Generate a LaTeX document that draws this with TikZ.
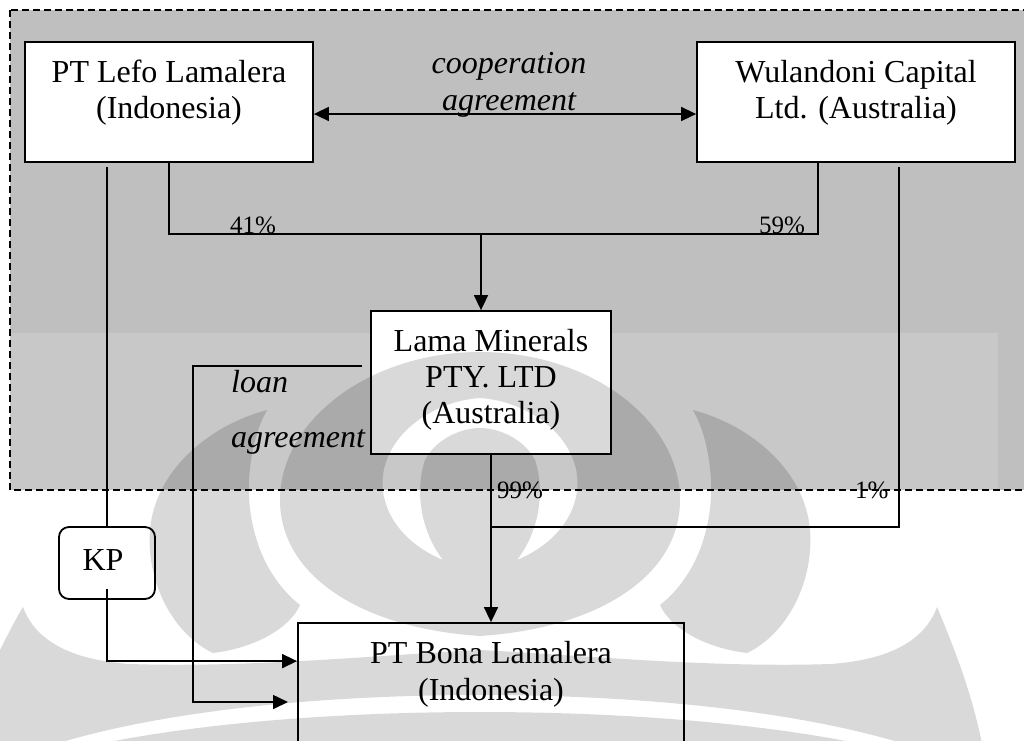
\documentclass[tikz,border=0pt]{standalone}
\usepackage{fontspec}
\setmainfont{Liberation Serif}
\usetikzlibrary{arrows.meta,calc}
\definecolor{bgA}{HTML}{BFBFBF}
\begin{document}
\begin{tikzpicture}[x=1pt,y=-1pt,
  box/.style={draw, line width=1.8pt, fill=white, inner sep=0pt},
  lbl/.style={font=\fontsize{32}{36}\selectfont, anchor=base, inner sep=0pt},
  lbli/.style={font=\fontsize{32}{36}\selectfont\itshape, anchor=base, inner sep=0pt},
  lblw/.style={font=\fontsize{32}{36}\selectfont\itshape, anchor=base west, inner sep=0pt},
  pct/.style={font=\fontsize{25}{30}\selectfont, anchor=base west, inner sep=0pt},
  conn/.style={line width=1.6pt},
  arr/.style={conn, -{Triangle[length=15pt,width=14pt]}},
  biarr/.style={conn, {Triangle[length=15pt,width=14pt]}-{Triangle[length=15pt,width=14pt]}},
  wm/.style={fill=black, fill opacity=0.15}
]
\fill[white] (0,0) rectangle (1024,740);
\clip (0,0) rectangle (1024,740);
% grey frame
\fill[bgA] (10,10) rectangle (1030,490);
\fill[white, opacity=0.14] (10,333) rectangle (998,490);
\draw[line width=1.5pt, dash pattern=on 7pt off 4pt] (10,10) rectangle (1030,490);

% boxes
\node[box, minimum width=288, minimum height=120] (lefo) at (169,102) {};
\node[box, minimum width=318, minimum height=120] (wul) at (856,102) {};
\node[box, minimum width=240, minimum height=143] (lama) at (491,382.5) {};
\node[box, rounded corners=10pt, minimum width=96, minimum height=72] (kp) at (107,563) {};
\node[box, minimum width=386, minimum height=160] (bona) at (491,703) {};

% texts
\node[lbl] (lefoA) at (169,82) {PT Lefo Lamalera};
\node[lbl] (lefoB) at (169,118) {(Indonesia)};
\node[lbl] (wulA) at (856,82) {Wulandoni Capital};
\node[lbl] (wulB) at (856,118) {Ltd. (Australia)};
\node[lbl] (lamaA) at (491,351) {Lama Minerals};
\node[lbl] (lamaB) at (491,387) {PTY. LTD};
\node[lbl] (lamaC) at (491,423) {(Australia)};
\node[lbl] (kpT) at (103,570) {KP};
\node[lbl] (bonaA) at (491,663) {PT Bona Lamalera};
\node[lbl] (bonaB) at (491,700) {(Indonesia)};
\node[lbli] (coopA) at (509,73) {cooperation};
\node[lbli] (coopB) at (509,110) {agreement};
\node[lblw] (loanA) at (231,392) {loan};
\node[lblw] (loanB) at (231,447) {agreement};
\node[pct] (p41) at (230,233) {41\%};
\node[pct] (p59) at (759,233) {59\%};
\node[pct] (p99) at (497,498) {99\%};
\node[pct] (p1) at (855,498) {1\%};

% coordinates
\coordinate (j1) at (481,234);
\coordinate (k0) at (107,167);
\coordinate (k1) at (107,589);
\coordinate (l0) at (362,366);
\coordinate (l1) at (288,702);
\coordinate (w0) at (899,167);
\coordinate (j2) at (491,527);

% connectors
\draw[biarr] ($(lefo.east)+(0,12)$) -- ($(wul.west)+(0,12)$);
\draw[conn] (lefo.south) |- (j1) -| ($(wul.south)+(-38,0)$);
\draw[arr] (j1) -- (j1 |- lama.north);
\draw[conn] (k0) -- (kp.north);
\draw[arr] (k1) |- ($(bona.north west)+(0,39)$);
\draw[arr] (l0) -| ($(l1)+(-95,0)$) -- (l1);
\draw[conn] (w0) |- (j2);
\draw[arr] (lama.south) -- (bona.north);

% watermark
\fill[wm, even odd rule]
 (480,352) .. controls (370,352) and (280,420) .. (280,500) .. controls (280,575) and (360,628) .. (480,636) .. controls (600,628) and (680,575) .. (680,500) .. controls (680,420) and (590,352) .. (480,352) -- cycle
 (443,560) .. controls (395,540) and (375,500) .. (385,465) .. controls (398,422) and (445,400) .. (480,398) .. controls (515,400) and (562,422) .. (575,465) .. controls (585,500) and (565,540) .. (517,560) .. controls (540,530) and (545,490) .. (535,460) .. controls (525,440) and (500,428) .. (480,428) .. controls (460,428) and (435,440) .. (425,460) .. controls (415,490) and (420,530) .. (443,560) -- cycle;
\fill[wm] (267,410) .. controls (210,425) and (155,470) .. (150,530) .. controls (146,585) and (175,635) .. (213,653) .. controls (255,648) and (290,628) .. (300,605) .. controls (262,575) and (247,525) .. (249,480) .. controls (251,450) and (257,428) .. (267,410) -- cycle;
\fill[wm] (693,410) .. controls (750,425) and (805,470) .. (810,530) .. controls (814,585) and (785,635) .. (747,653) .. controls (705,648) and (670,628) .. (660,605) .. controls (698,575) and (713,525) .. (711,480) .. controls (709,450) and (703,428) .. (693,410) -- cycle;
\fill[wm, even odd rule]
 (-5,660) .. controls (5,640) and (15,620) .. (23,607) .. controls (35,640) and (70,660) .. (130,664) .. controls (250,668) and (380,655) .. (480,650) .. controls (580,655) and (710,668) .. (830,664) .. controls (890,660) and (925,640) .. (937,607) .. controls (955,650) and (975,700) .. (985,760) -- (-5,760) -- cycle
 (10,760) .. controls (120,715) and (300,695) .. (480,695) .. controls (660,695) and (840,715) .. (950,760) -- (925,760) .. controls (820,728) and (650,712) .. (480,712) .. controls (310,712) and (140,728) .. (35,760) -- cycle;
\end{tikzpicture}
\end{document}
